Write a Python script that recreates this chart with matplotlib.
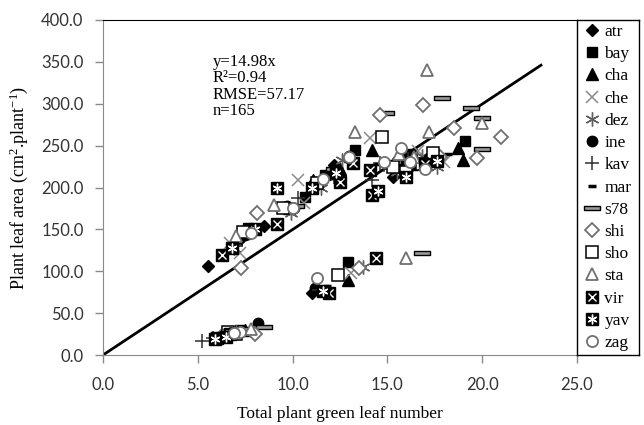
import matplotlib
matplotlib.use("Agg")
import matplotlib.pyplot as plt
from matplotlib.lines import Line2D
from matplotlib.path import Path
import numpy as np

plt.rcParams['mathtext.fontset'] = 'custom'
plt.rcParams['mathtext.rm'] = 'Liberation Serif'
plt.rcParams['mathtext.it'] = 'Liberation Serif:italic'

# leaf number (x) and leaf area (y) per cultivar
atr_x = [6.5, 7.0, 11.0, 5.55, 7.3, 8.5, 10.0, 12.2, 15.3, 16.2, 17.0]
atr_y = [24, 27, 74, 106, 140, 154, 176, 227, 213, 225, 232]
bay_x = [6.3, 7.2, 12.9, 7.65, 7.5, 10.65, 11.7, 13.3, 15.7, 16.3, 19.1]
bay_y = [22, 30, 111, 152, 145, 189, 215, 245, 236, 240, 255]
cha_x = [6.8, 7.5, 12.9, 7.0, 9.8, 11.1, 14.2, 16.5, 18.7, 19.0, 12.5]
cha_y = [26, 30, 90, 138, 175, 209, 245, 230, 247, 233, 222]
che_x = [6.0, 6.6, 13.1, 6.7, 7.2, 10.3, 14.1, 16.6, 17.3, 18.0, 10.6]
che_y = [20, 26, 98, 134, 122, 209, 259, 243, 230, 230, 182]
dez_x = [6.3, 7.0, 13.7, 6.9, 9.9, 12.6, 16.0, 16.8, 17.6, 15.5, 11.5]
dez_y = [23, 28, 105, 128, 170, 233, 222, 238, 225, 218, 200]
ine_x = [8.2, 7.3, 11.2, 9.7, 10.1, 12.0, 15.5, 16.0, 17.2, 7.5, 13.0]
ine_y = [38, 29, 80, 178, 176, 216, 232, 228, 235, 143, 238]
kav_x = [5.2, 5.8, 11.4, 14.6, 14.2, 14.8, 7.0, 10.3, 16.1, 17.5, 12.2]
kav_y = [17, 20, 78, 229, 209, 227, 130, 188, 234, 238, 212]
mar_x = [8.4, 6.8, 11.8, 17.5, 15.8, 16.4, 9.8, 12.9, 7.2, 14.5, 18.2]
mar_y = [34, 25, 82, 245, 215, 222, 178, 232, 136, 228, 240]
s78_x = [8.5, 7.6, 16.8, 14.9, 17.9, 19.4, 20.0, 20.0, 15.3, 12.2, 10.2]
s78_y = [33, 31, 122, 289, 307, 295, 283, 246, 230, 222, 178]
shi_x = [8.0, 6.2, 13.5, 7.3, 8.1, 14.6, 16.9, 18.5, 21.0, 19.7, 17.8]
shi_y = [25, 21, 104, 104, 170, 287, 298, 271, 260, 235, 236]
sho_x = [6.6, 7.0, 12.4, 7.4, 14.7, 17.4, 15.3, 16.0, 11.3, 16.8, 9.5]
sho_y = [28, 25, 95, 147, 260, 241, 224, 218, 205, 228, 175]
sta_x = [6.4, 7.8, 16.0, 9.0, 13.3, 17.1, 17.2, 20.0, 15.6, 7.0, 16.4]
sta_y = [24, 31, 116, 179, 266, 340, 266, 277, 240, 142, 236]
vir_x = [6.0, 6.7, 11.9, 14.4, 6.3, 9.2, 12.5, 14.1, 14.2, 13.2, 17.0]
vir_y = [20, 25, 74, 116, 119, 157, 207, 221, 191, 229, 228]
yav_x = [5.9, 6.5, 11.6, 9.2, 6.8, 11.0, 12.3, 14.5, 16.0, 17.6, 8.0]
yav_y = [19, 22, 76, 199, 128, 200, 217, 196, 213, 232, 150]
zag_x = [7.2, 6.9, 11.3, 15.7, 10.0, 13.0, 16.2, 14.8, 17.0, 11.6, 7.8]
zag_y = [28, 26, 92, 247, 176, 236, 230, 230, 222, 210, 146]

slope = 14.98
line_x = [0, 23.1]

bar = Path([(-1, -0.32), (1, -0.32), (1, 0.32), (-1, 0.32), (-1, -0.32)],
           [Path.MOVETO, Path.LINETO, Path.LINETO, Path.LINETO, Path.CLOSEPOLY])
star = (6, 2, 0)

# each series: list of marker layers
styles = {
    'atr': [dict(marker='D', ms=6.5, mfc='black', mec='black')],
    'bay': [dict(marker='s', ms=7.5, mfc='black', mec='black')],
    'cha': [dict(marker='^', ms=8, mfc='black', mec='black')],
    'che': [dict(marker='x', ms=9, mec='#8a8a8a', mew=1.1)],
    'dez': [dict(marker=star, ms=10, mec='#606060', mew=1.0)],
    'ine': [dict(marker='o', ms=7.5, mfc='black', mec='black')],
    'kav': [dict(marker='+', ms=10, mec='#303030', mew=1.1)],
    'mar': [dict(marker='_', ms=6, mec='black', mew=2.5)],
    's78': [dict(marker=bar, ms=11, mfc='#9a9a9a', mec='black', mew=1.0)],
    'shi': [dict(marker='D', ms=7, mfc='white', mec='#707070', mew=1.3)],
    'sho': [dict(marker='s', ms=8, mfc='white', mec='black', mew=1.1)],
    'sta': [dict(marker='^', ms=9, mfc='white', mec='#707070', mew=1.3)],
    'vir': [dict(marker='s', ms=8, mfc='black', mec='black'),
            dict(marker='x', ms=6, mec='white', mew=1.0)],
    'yav': [dict(marker='s', ms=8, mfc='black', mec='black'),
            dict(marker=star, ms=7, mec='white', mew=1.0)],
    'zag': [dict(marker='o', ms=8, mfc='white', mec='#707070', mew=1.3)],
}
data = {
    'atr': (atr_x, atr_y), 'bay': (bay_x, bay_y), 'cha': (cha_x, cha_y),
    'che': (che_x, che_y), 'dez': (dez_x, dez_y), 'ine': (ine_x, ine_y),
    'kav': (kav_x, kav_y), 'mar': (mar_x, mar_y), 's78': (s78_x, s78_y),
    'shi': (shi_x, shi_y), 'sho': (sho_x, sho_y), 'sta': (sta_x, sta_y),
    'vir': (vir_x, vir_y), 'yav': (yav_x, yav_y), 'zag': (zag_x, zag_y),
}

fig = plt.figure(figsize=(6.44, 4.25), dpi=100)
ax = fig.add_axes([103/644, 70/425, 474/644, 335/425])

handles = []
for name, (xs, ys) in data.items():
    layers = []
    for st in styles[name]:
        ax.plot(xs, ys, linestyle='none', **st)
        layers.append(Line2D([], [], linestyle='none', **st))
    handles.append(tuple(layers))

ax.plot(line_x, [slope * v for v in line_x], color='black', lw=2, zorder=1)

ax.set_xlim(0, 25)
ax.set_ylim(0, 400)
ax.set_xticks(np.arange(0, 26, 5))
ax.set_yticks(np.arange(0, 401, 50))
ax.set_xticklabels(['%.1f' % v for v in np.arange(0, 26, 5)])
ax.set_yticklabels(['%.1f' % v for v in np.arange(0, 401, 50)])
for lab in ax.get_xticklabels() + ax.get_yticklabels():
    lab.set_family('Lato')
    lab.set_fontsize(12)
    lab.set_color('#333333')
ax.tick_params(direction='out', length=6, color='#8a8a8a', width=1)
ax.tick_params(axis='y', pad=8)
ax.tick_params(axis='x', pad=10)
ax.spines['left'].set_color('#8a8a8a')
ax.spines['bottom'].set_color('#8a8a8a')
ax.spines['top'].set_color('black')
ax.spines['right'].set_visible(False)

ax.set_xlabel('Total plant green leaf number', family='Liberation Serif',
              fontsize=12.5, labelpad=9)
ax.set_ylabel('Plant leaf area (cm$^{2}$.plant$^{-1}$)', family='Liberation Serif',
              fontsize=13, labelpad=8)

ax.text(5.8, 360, 'y=14.98x\nR\u00b2=0.94\nRMSE=57.17\nn=165', family='Liberation Serif',
        fontsize=12, va='top', ha='left', linespacing=1.05)

lax = fig.add_axes([577/644, 70/425, 62/644, 335/425])
lax.set_xticks([])
lax.set_yticks([])
for sp in lax.spines.values():
    sp.set_color('black')
    sp.set_linewidth(1)
lax.legend(handles, list(data.keys()), loc='center', frameon=False,
           prop={'family': 'Liberation Serif', 'size': 12.5},
           handlelength=0.9, handletextpad=0.25, labelspacing=0.35,
           borderpad=0.1, borderaxespad=0)

fig.savefig('out.png', dpi=100, facecolor='white')
